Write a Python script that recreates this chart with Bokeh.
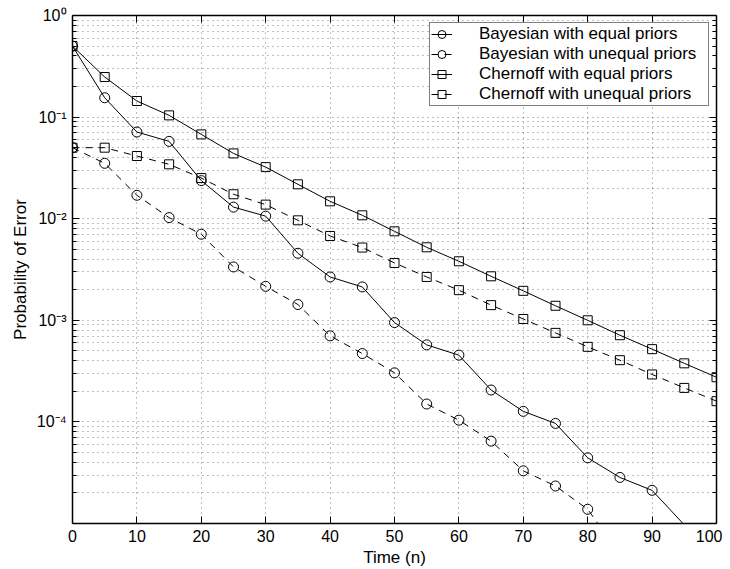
from bokeh.plotting import figure
from bokeh.models import (Range1d, FixedTicker, LogAxis, LinearAxis,
                          CustomJSTickFormatter, Legend, LegendItem)
from bokeh.embed import file_html
from bokeh.resources import INLINE

# ---- data ----
time = [0, 5, 10, 15, 20, 25, 30, 35, 40, 45, 50, 55, 60, 65, 70, 75, 80, 85, 90, 95, 100]

bayes_equal = [0.5, 0.155, 0.0713, 0.0577, 0.0237, 0.0130, 0.0106, 0.00457, 0.00267,
               0.00213, 0.00095, 0.000573, 0.000454, 0.000206, 0.000127, 9.66e-5,
               4.43e-5, 2.84e-5, 2.12e-5, 9.7e-6]
bayes_unequal = [0.05, 0.0351, 0.0170, 0.01025, 0.00703, 0.00335, 0.00216, 0.00143,
                 0.000703, 0.000471, 0.000304, 0.000150, 0.000104, 6.47e-5, 3.30e-5,
                 2.34e-5, 1.38e-5, 5.0e-6]
chernoff_equal = [0.5, 0.248, 0.144, 0.104, 0.0676, 0.0439, 0.0322, 0.0218, 0.01483,
                  0.0108, 0.00751, 0.00523, 0.00381, 0.00271, 0.00195, 0.00139, 0.00100,
                  7.13e-4, 5.2e-4, 3.77e-4, 2.75e-4]
chernoff_unequal = [0.05, 0.0500, 0.0414, 0.0343, 0.0251, 0.0174, 0.01376, 0.00964,
                    0.00676, 0.0052, 0.00367, 0.00267, 0.00198, 0.00141, 0.00103,
                    7.52e-4, 5.48e-4, 4.05e-4, 2.93e-4, 2.16e-4, 1.60e-4]

series_labels = ["Bayesian with equal priors", "Bayesian with unequal priors",
                 "Chernoff with equal priors", "Chernoff with unequal priors"]

x_ticks = [0, 10, 20, 30, 40, 50, 60, 70, 80, 90, 100]
y_major = [1e-4, 1e-3, 1e-2, 1e-1, 1e0]
y_minor = [m * 10.0 ** k for k in range(-5, 0) for m in range(2, 10)]

x_label = "Time (n)"
y_label = "Probability of Error"

Y_MIN, Y_MAX = 1e-5, 1.0
FONT = "Liberation Sans"

p = figure(frame_width=644, frame_height=508, x_range=Range1d(0, 100),
           y_range=Range1d(Y_MIN, Y_MAX),
           y_axis_type="log", output_backend="svg", toolbar_location=None,
           min_border_left=72, min_border_right=6, min_border_top=15, min_border_bottom=20)
p.outline_line_color = None
p.background_fill_color = "white"

sup_code = """
const sup = {'0':'\\u2070','1':'\\u00b9','2':'\\u00b2','3':'\\u00b3','4':'\\u2074',
             '5':'\\u2075','6':'\\u2076','7':'\\u2077','8':'\\u2078','9':'\\u2079','-':'\\u207b'};
const e = Math.round(Math.log10(tick));
return '10' + String(e).split('').map(c => sup[c]).join('');
"""
blank = CustomJSTickFormatter(code="return '';")


def style_axis(ax):
    ax.axis_line_color = "black"
    ax.axis_line_width = 1.5
    ax.major_tick_line_color = "black"
    ax.minor_tick_line_color = "black"
    ax.major_tick_in = 7
    ax.major_tick_out = 0
    ax.minor_tick_in = 4
    ax.minor_tick_out = 0
    ax.major_label_text_font = FONT
    ax.major_label_text_font_size = "16px"
    ax.major_label_text_color = "black"
    ax.axis_label_text_font = FONT
    ax.axis_label_text_font_size = "17px"
    ax.axis_label_text_font_style = "normal"
    ax.axis_label_text_color = "black"


xa = p.xaxis[0]
xa.ticker = FixedTicker(ticks=x_ticks)
xa.axis_label = x_label
style_axis(xa)
xa.major_label_standoff = 6
xa.axis_label_standoff = 3

ya = p.yaxis[0]
ya.ticker = FixedTicker(ticks=y_major, minor_ticks=y_minor)
ya.formatter = CustomJSTickFormatter(code=sup_code)
ya.axis_label = y_label
style_axis(ya)
ya.major_label_standoff = 6
ya.axis_label_standoff = 4

top = LinearAxis(ticker=FixedTicker(ticks=x_ticks), formatter=blank)
style_axis(top)
top.major_label_standoff = 0
p.add_layout(top, "above")

right = LogAxis(ticker=FixedTicker(ticks=y_major, minor_ticks=y_minor), formatter=blank)
style_axis(right)
right.major_label_standoff = 0
p.add_layout(right, "right")

for g in (p.xgrid, p.ygrid):
    g.grid_line_color = "black"
    g.grid_line_alpha = 0.5
    g.grid_line_dash = "1 4"
p.xgrid.ticker = FixedTicker(ticks=x_ticks)
p.ygrid.ticker = FixedTicker(ticks=y_major, minor_ticks=y_minor)
p.ygrid.minor_grid_line_color = "black"
p.ygrid.minor_grid_line_alpha = 0.5
p.ygrid.minor_grid_line_dash = "1 4"

styles = [
    (bayes_equal, "circle", "solid", 10),
    (bayes_unequal, "circle", "7 6", 10),
    (chernoff_equal, "square", "solid", 9),
    (chernoff_unequal, "square", "7 6", 9),
]

items = []
for (vals, marker, dash, size), label in zip(styles, series_labels):
    xs = time[:len(vals)]
    ln = p.line(xs, vals, line_color="black", line_width=1, line_dash=dash)
    mx = [x for x, v in zip(xs, vals) if v >= Y_MIN]
    my = [v for v in vals if v >= Y_MIN]
    p.scatter(mx, my, marker=marker, size=size, fill_color=None,
              line_color="black", line_width=1)
    # smaller, hidden copy of the markers used only for the legend swatch
    key = p.scatter(mx, my, marker=marker, size=7, fill_color=None,
                    line_color="black", line_width=1, visible=False)
    items.append(LegendItem(label=label, renderers=[ln, key]))

legend = Legend(items=items, location="top_right", margin=7, padding=1, spacing=0,
                glyph_width=21, glyph_height=20, label_height=20, label_standoff=27,
                label_width=228, label_text_font=FONT, label_text_font_size="17px",
                label_text_color="black", border_line_color="black", border_line_width=1,
                background_fill_color="white", background_fill_alpha=1,
                click_policy="none")
p.add_layout(legend)

open("out.html", "w", encoding="utf-8").write(file_html(p, INLINE))
